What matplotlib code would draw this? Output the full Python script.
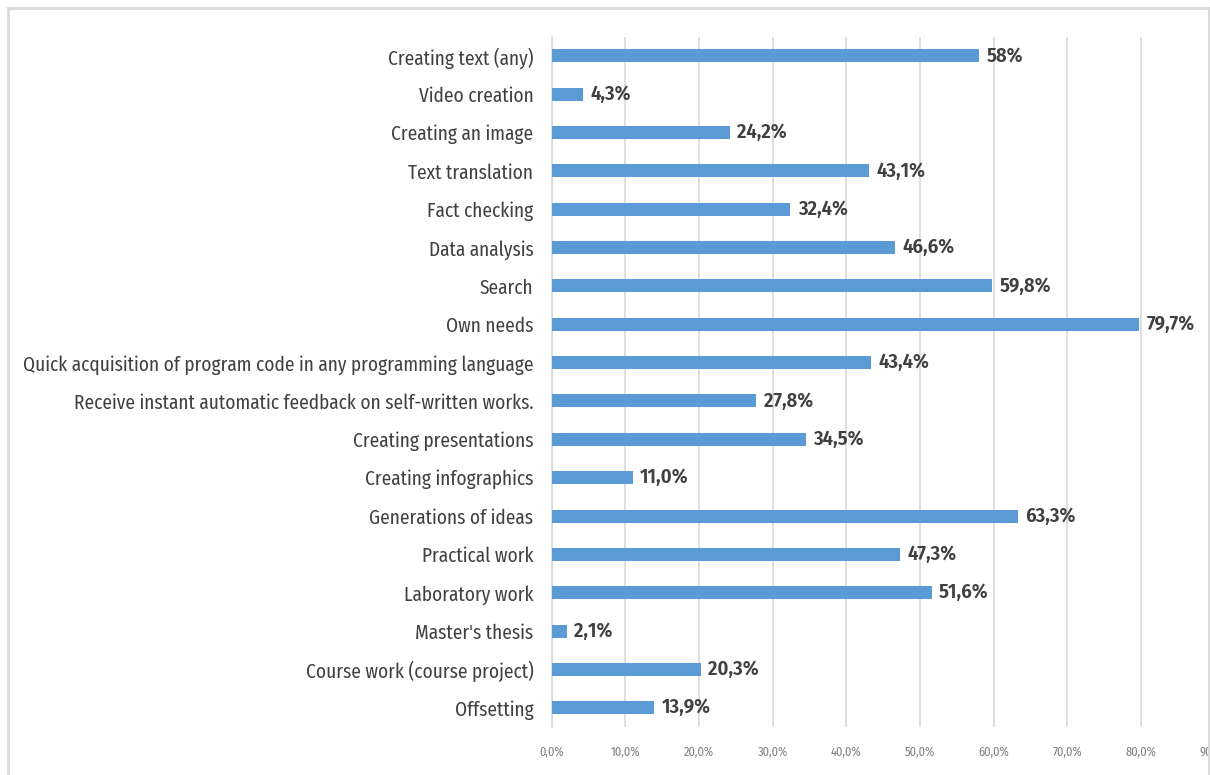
import os
import matplotlib
matplotlib.use("Agg")
import matplotlib.pyplot as plt
from matplotlib.lines import Line2D
from matplotlib import font_manager
from matplotlib.font_manager import FontProperties

categories = [
    "Creating text (any)",
    "Video creation",
    "Creating an image",
    "Text translation",
    "Fact checking",
    "Data analysis",
    "Search",
    "Own needs",
    "Quick acquisition of program code in any programming language",
    "Receive instant automatic feedback on self-written works.",
    "Creating presentations",
    "Creating infographics",
    "Generations of ideas",
    "Practical work",
    "Laboratory work",
    "Master's thesis",
    "Course work (course project)",
    "Offsetting",
]
values = [58.0, 4.3, 24.2, 43.1, 32.4, 46.6, 59.8, 79.7, 43.4, 27.8,
          34.5, 11.0, 63.3, 47.3, 51.6, 2.1, 20.3, 13.9]
value_labels = ["58%", "4,3%", "24,2%", "43,1%", "32,4%", "46,6%", "59,8%",
                "79,7%", "43,4%", "27,8%", "34,5%", "11,0%", "63,3%", "47,3%",
                "51,6%", "2,1%", "20,3%", "13,9%"]
x_ticks = [0, 10, 20, 30, 40, 50, 60, 70, 80, 90]
x_tick_labels = ["0,0%", "10,0%", "20,0%", "30,0%", "40,0%", "50,0%",
                 "60,0%", "70,0%", "80,0%", "90,0%"]

# ---- font selection: a narrow humanist face (reference text is Calibri, squeezed)
byname = {}
for f in font_manager.fontManager.ttflist:
    byname.setdefault(os.path.basename(f.fname), f.fname)

pairs = [
    ("PTSansNarrow-Regular.ttf", "PTSansNarrow-Bold.ttf"),
    ("FiraSansCondensed-Regular.ttf", "FiraSansCondensed-SemiBold.ttf"),
    ("RobotoCondensed-Regular.ttf", "RobotoCondensed-Bold.ttf"),
    ("EncodeSansCondensed-Regular.ttf", "EncodeSansCondensed-SemiBold.ttf"),
    ("Carlito-Regular.ttf", "Carlito-Bold.ttf"),
]
reg_path = bold_path = None
for r, b in pairs:
    if r in byname and b in byname:
        reg_path, bold_path = byname[r], byname[b]
        break

def fp(bold=False, size=12):
    if reg_path:
        return FontProperties(fname=bold_path if bold else reg_path, size=size)
    return FontProperties(family="DejaVu Sans", weight="bold" if bold else "normal",
                          size=size, stretch="condensed")

BAR = "#5B9BD5"
TXT = "#404040"
W, H = 1210, 775

fig = plt.figure(figsize=(W / 100, H / 100), dpi=100)
renderer = fig.canvas.get_renderer()

def fit_size(text, bold, target_px, base=12):
    t = fig.text(0, 0, text, fontproperties=fp(bold, base))
    w = t.get_window_extent(renderer).width
    t.remove()
    return base * target_px / w

cat_size = fit_size(categories[8], False, 513)
val_size = fit_size("79,7%", True, 48)
tick_size = fit_size("80,0%", False, 31)

ax = fig.add_axes([551.5 / W, 1 - 727 / H, (1214.8 - 551.5) / W, (727 - 36.6) / H])

ypos = list(range(len(categories)))
ax.barh(ypos, values, height=0.34, color=BAR, zorder=3)
ax.set_ylim(len(categories) - 0.5, -0.5)
ax.set_xlim(0, 90)

ax.set_yticks(ypos)
ax.set_yticklabels(categories, color=TXT)
for lab in ax.get_yticklabels():
    lab.set_fontproperties(fp(False, cat_size))
ax.tick_params(axis="y", length=0, pad=13)

ax.set_xticks(x_ticks)
ax.set_xticklabels(x_tick_labels, color="#808080")
for lab in ax.get_xticklabels():
    lab.set_fontproperties(fp(False, tick_size))
ax.tick_params(axis="x", length=0, pad=14)

ax.grid(axis="x", color="#d9d9d9", linewidth=1.2, zorder=0)
for s in ["top", "right", "bottom"]:
    ax.spines[s].set_visible(False)
ax.spines["left"].set_color("#d9d9d9")
ax.spines["left"].set_linewidth(1.2)

for y, v, lab in zip(ypos, values, value_labels):
    ax.text(v + 1.0, y, lab, va="center", ha="left", color=TXT,
            fontproperties=fp(True, val_size))

# outer chart border
def fx(px):
    return px / W
def fy(py):
    return 1 - py / H
c = "#d9d9d9"
fig.add_artist(Line2D([fx(8), fx(1209)], [fy(8), fy(8)], color=c, lw=2, transform=fig.transFigure))
fig.add_artist(Line2D([fx(8), fx(8)], [fy(8), fy(775)], color=c, lw=2, transform=fig.transFigure))
fig.add_artist(Line2D([fx(1209), fx(1209)], [fy(8), fy(775)], color=c, lw=2, transform=fig.transFigure))

fig.savefig("out.png", dpi=100)
